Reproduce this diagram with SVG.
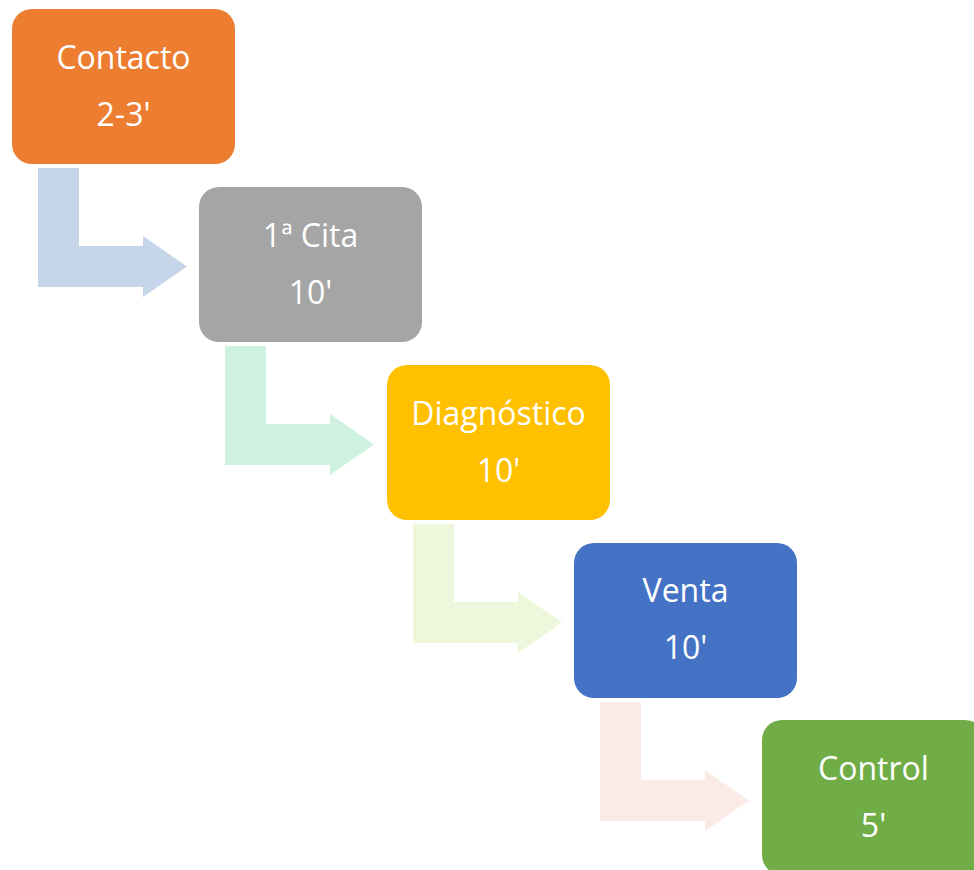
<svg xmlns="http://www.w3.org/2000/svg" width="974" height="870" viewBox="0 0 974 870">
<style>
.box text{font-family:"Open Sans","Liberation Sans",sans-serif;font-size:32px;fill:#fff;text-anchor:middle}
</style>
<defs>
<path id="arr" d="M0,0 H41 V78 H105 V68 L149,98.5 L105,129 V119 H0 Z"/>
</defs>
<rect width="974" height="870" fill="#fff"/>
<g id="connectors">
<use href="#arr" x="38" y="168" fill="#C5D5EA"/>
<use href="#arr" x="225" y="346" fill="#CFF1DF"/>
<use href="#arr" x="413" y="524" fill="#EDF7DC"/>
<use href="#arr" x="600" y="702" fill="#FBEBE6"/>
</g>
<g id="n1" class="box"><rect x="12" y="9" width="223" height="155" rx="20" fill="#ED7D31"/><text x="123.5" y="69">Contacto</text><text x="123.5" y="126">2-3'</text></g>
<g id="n2" class="box"><rect x="199" y="187" width="223" height="155" rx="20" fill="#A5A5A5"/><text x="310.5" y="247">1ª Cita</text><text x="310.5" y="304">10'</text></g>
<g id="n3" class="box"><rect x="387" y="365" width="223" height="155" rx="20" fill="#FFC000"/><text x="498.5" y="425">Diagnóstico</text><text x="498.5" y="482">10'</text></g>
<g id="n4" class="box"><rect x="574" y="543" width="223" height="155" rx="20" fill="#4472C4"/><text x="685.5" y="602">Venta</text><text x="685.5" y="659">10'</text></g>
<g id="n5" class="box"><rect x="762" y="720" width="223" height="155" rx="20" fill="#70AD47"/><text x="873.5" y="780">Control</text><text x="873.5" y="837">5'</text></g>
</svg>
